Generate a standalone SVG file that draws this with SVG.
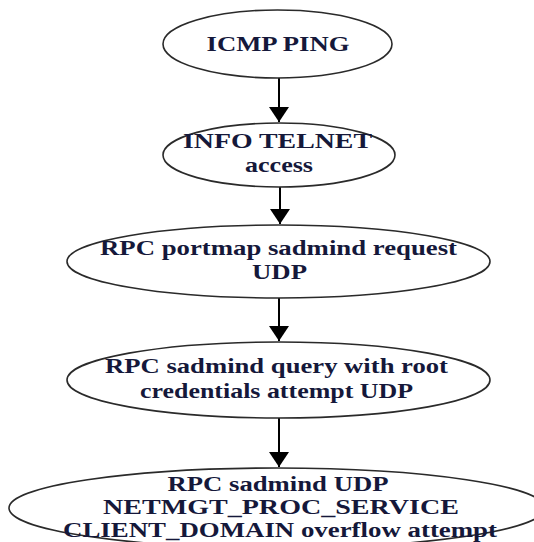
<svg xmlns="http://www.w3.org/2000/svg" width="534" height="542" viewBox="0 0 534 542">
<style>
.node ellipse{fill:#ffffff;stroke:#2a2a2a;stroke-width:1.6}
.node text{font-family:"Liberation Serif","Times New Roman",serif;font-weight:bold;font-size:22px;fill:#15183a;text-anchor:middle}
#n5 text{font-size:20.5px}
.edge{stroke:#000;stroke-width:2;fill:none;marker-end:url(#arr)}
</style>
<defs>
<marker id="arr" viewBox="0 0 15 20" refX="15" refY="10" markerWidth="15" markerHeight="20" markerUnits="userSpaceOnUse" orient="auto">
<path d="M0,0 L15,10 L0,20 z" fill="#000"/>
</marker>
</defs>
<rect width="534" height="542" fill="#ffffff"/>
<g id="connectors">
<line class="edge" x1="279" y1="78" x2="279" y2="122"/>
<line class="edge" x1="280" y1="187" x2="280" y2="224"/>
<line class="edge" x1="279" y1="298" x2="279" y2="341"/>
<line class="edge" x1="279" y1="418" x2="279" y2="467"/>
</g>
<g id="n1" class="node">
<ellipse cx="277.5" cy="44" rx="114.5" ry="34"/>
<text x="278" y="51" textLength="143" lengthAdjust="spacingAndGlyphs">ICMP PING</text>
</g>
<g id="n2" class="node">
<ellipse cx="279" cy="155" rx="116" ry="32"/>
<text x="277.5" y="148" textLength="189" lengthAdjust="spacingAndGlyphs">INFO TELNET</text>
<text x="279" y="172" textLength="68" lengthAdjust="spacingAndGlyphs">access</text>
</g>
<g id="n3" class="node">
<ellipse cx="278.5" cy="261.5" rx="211.5" ry="36.5"/>
<text x="278.5" y="255" textLength="357" lengthAdjust="spacingAndGlyphs">RPC portmap sadmind request</text>
<text x="279.5" y="279" textLength="55" lengthAdjust="spacingAndGlyphs">UDP</text>
</g>
<g id="n4" class="node">
<ellipse cx="278.5" cy="380" rx="211.5" ry="38"/>
<text x="276.5" y="373" textLength="343" lengthAdjust="spacingAndGlyphs">RPC sadmind query with root</text>
<text x="276.5" y="398" textLength="273" lengthAdjust="spacingAndGlyphs">credentials attempt UDP</text>
</g>
<g id="n5" class="node">
<ellipse cx="277" cy="508" rx="268" ry="40"/>
<text x="278" y="491" textLength="221" lengthAdjust="spacingAndGlyphs">RPC sadmind UDP</text>
<text x="281" y="514" textLength="356" lengthAdjust="spacingAndGlyphs">NETMGT_PROC_SERVICE</text>
<text x="280" y="537" textLength="434" lengthAdjust="spacingAndGlyphs">CLIENT_DOMAIN overflow attempt</text>
</g>
</svg>
